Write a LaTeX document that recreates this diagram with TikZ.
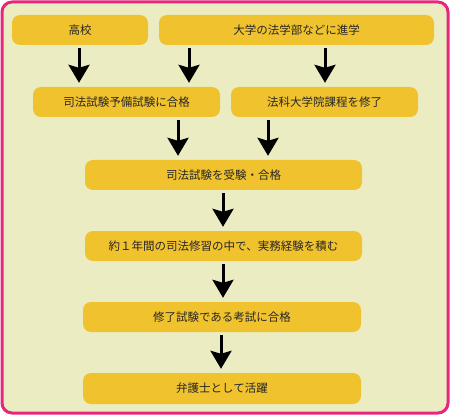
\documentclass[tikz,border=0pt]{standalone}
\usepackage{fontspec}
\setmainfont{Noto Sans CJK JP}
\usetikzlibrary{arrows.meta}
\definecolor{framepink}{HTML}{E6287D}
\definecolor{bgcream}{HTML}{ECECC2}
\definecolor{boxgold}{HTML}{F0C22E}
\definecolor{txt}{HTML}{262626}
\tikzset{
  stepbox/.style={fill=boxgold, draw=none, rounded corners=8pt, text=txt,
    font=\fontsize{11.5pt}{13pt}\selectfont, inner sep=0pt, minimum height=30pt},
  arr/.style={line width=3pt, -{Stealth[length=18pt,width=21pt,inset=3pt]},
    shorten <=3pt, shorten >=4pt}
}
\begin{document}
\begin{tikzpicture}[x=1pt,y=-1pt]
\useasboundingbox (0,0) rectangle (450,417);
\draw[framepink, fill=bgcream, line width=3pt, rounded corners=10pt] (2,2) rectangle (448,413);
\node[stepbox, minimum width=136pt] (hs) at (80,30) {高校};
\node[stepbox, minimum width=275pt] (univ) at (296.5,30) {大学の法学部などに進学};
\node[stepbox, minimum width=187pt] (yobi) at (126.5,102) {司法試験予備試験に合格};
\node[stepbox, minimum width=187pt] (hoka) at (324.5,102) {法科大学院課程を修了};
\node[stepbox, minimum width=277pt] (juken) at (223.5,175) {司法試験を受験・合格};
\node[stepbox, minimum width=277pt] (shuu) at (223.5,246) {約１年間の司法修習の中で、実務経験を積む};
\node[stepbox, minimum width=278pt] (kou) at (222,317) {修了試験である考試に合格};
\node[stepbox, minimum width=278pt, minimum height=31pt] (ben) at (222,388.5) {弁護士として活躍};
\draw[arr] (hs.south -| 79,0) -- (yobi.north -| 79,0);
\draw[arr] (univ.south -| 189,0) -- (yobi.north -| 189,0);
\draw[arr] (univ.south -| 325,0) -- (hoka.north -| 325,0);
\draw[arr] (yobi.south -| 178,0) -- (juken.north -| 178,0);
\draw[arr] (hoka.south -| 268,0) -- (juken.north -| 268,0);
\draw[arr] (juken.south -| 223,0) -- (shuu.north -| 223,0);
\draw[arr] (shuu.south -| 223,0) -- (kou.north -| 223,0);
\draw[arr] (kou.south -| 221,0) -- (ben.north -| 221,0);
\end{tikzpicture}
\end{document}
